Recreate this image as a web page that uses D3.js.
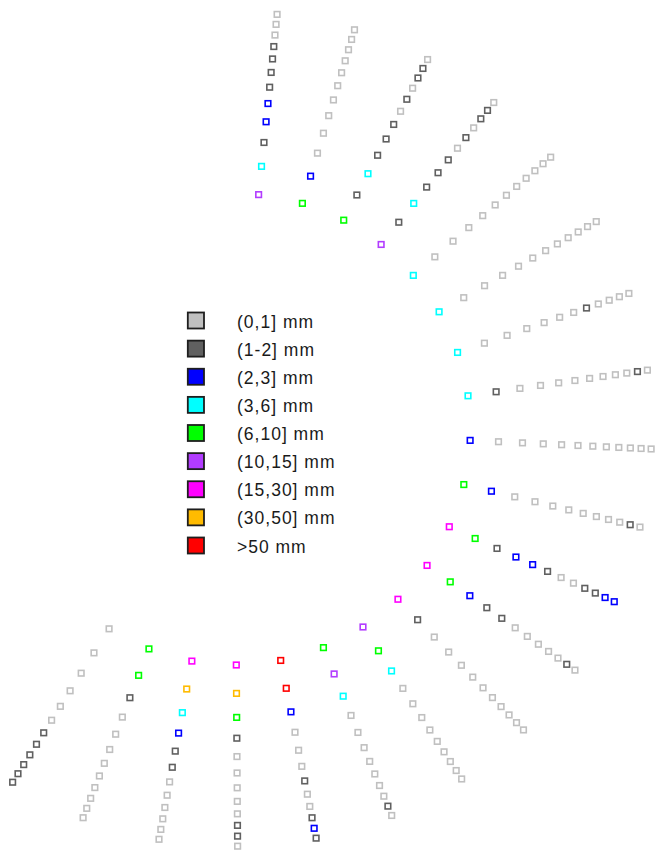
<!DOCTYPE html>
<html>
<head>
<meta charset="utf-8">
<script src="https://cdn.jsdelivr.net/npm/d3@7"></script>
<style>
  html, body { margin: 0; padding: 0; background: #fff; }
  svg { display: block; }
</style>
</head>
<body>
<svg id="chart" width="655" height="850"></svg>
<script>
// Precipitation classes, from the lightest to the heaviest
const classLabels = ["(0,1] mm", "(1-2] mm", "(2,3] mm", "(3,6] mm", "(6,10] mm",
                     "(10,15] mm", "(15,30] mm", "(30,50] mm", ">50 mm"];
const classColors = ["#c0c0c0", "#606060", "#0000ff", "#00ffff", "#00ff00",
                     "#b23cff", "#ff00ff", "#ffbb00", "#ff0000"];

// Class of each step along a spoke, listed from the inside out
const spoke01 = [5, 3, 1, 2, 2, 1, 1, 1, 1, 0, 0, 0];
const spoke02 = [4, 2, 0, 0, 0, 0, 0, 0, 0, 0, 0, 0];
const spoke03 = [4, 1, 3, 1, 1, 1, 0, 1, 0, 1, 1, 0];
const spoke04 = [5, 1, 3, 1, 1, 1, 0, 1, 0, 1, 1, 0];
const spoke05 = [3, 0, 0, 0, 0, 0, 0, 0, 0, 0, 0, 0];
const spoke06 = [3, 0, 0, 0, 0, 0, 0, 0, 0, 0, 0, 0];
const spoke07 = [3, 0, 0, 0, 0, 0, 0, 1, 0, 0, 0, 0];
const spoke08 = [3, 1, 0, 0, 0, 0, 0, 0, 0, 0, 1, 0];
const spoke09 = [2, 0, 0, 0, 0, 0, 0, 0, 0, 0, 0, 0];
const spoke10 = [4, 2, 0, 0, 0, 0, 0, 0, 0, 0, 1, 0];
const spoke11 = [6, 4, 1, 2, 2, 1, 0, 0, 1, 1, 2, 2];
const spoke12 = [6, 4, 2, 1, 1, 0, 0, 0, 0, 0, 1, 0];
const spoke13 = [6, 1, 0, 0, 0, 0, 0, 0, 0, 0, 0, 0];
const spoke14 = [5, 4, 3, 0, 0, 0, 0, 0, 0, 0, 0, 0];
const spoke15 = [4, 5, 3, 0, 0, 0, 0, 0, 0, 0, 1, 0];
const spoke16 = [8, 8, 2, 0, 0, 0, 1, 0, 0, 1, 2, 1];
const spoke17 = [6, 7, 4, 1, 0, 0, 0, 0, 0, 1, 1, 0];
const spoke18 = [6, 7, 3, 2, 1, 1, 0, 0, 0, 0, 0, 0];
const spoke19 = [4, 4, 1, 0, 0, 0, 0, 0, 0, 0, 0, 0];
const spoke20 = [0, 0, 0, 0, 0, 0, 1, 1, 1, 1, 1, 1];

const spokes = [spoke01, spoke02, spoke03, spoke04, spoke05, spoke06, spoke07,
                spoke08, spoke09, spoke10, spoke11, spoke12, spoke13, spoke14,
                spoke15, spoke16, spoke17, spoke18, spoke19, spoke20];

const svg = d3.select("#chart");
const cx = 234.6, cy = 429.2;
const stepsPerSpoke = spoke01.length;

// Spokes fan clockwise from just right of 12 o'clock (degrees)
const angle = d3.scaleLinear()
  .domain([0, spokes.length - 1])
  .range([5.85, 212.16]);

// Steps get closer together further out (log spacing)
const stepOffset = 5;
const radius = d3.scaleLog()
  .domain([stepOffset, stepOffset + stepsPerSpoke - 1])
  .range([235.8, 417]);

const color = d3.scaleOrdinal()
  .domain(d3.range(classLabels.length))
  .range(classColors);

const points = spokes.flatMap((spoke, i) =>
  spoke.map((cls, j) => {
    const a = angle(i) * Math.PI / 180;
    const r = radius(j + stepOffset);
    return { x: cx + r * Math.sin(a), y: cy - r * Math.cos(a), cls };
  }));

const mark = 5.6;
svg.append("g")
  .selectAll("rect")
  .data(points)
  .join("rect")
    .attr("x", d => d.x - mark / 2)
    .attr("y", d => d.y - mark / 2)
    .attr("width", mark)
    .attr("height", mark)
    .attr("fill", "#fff")
    .attr("stroke", d => color(d.cls))
    .attr("stroke-width", 1.6);

// Legend
const legendRow = d3.scalePoint()
  .domain(d3.range(classLabels.length))
  .range([320.5, 545.5]);

const legend = svg.append("g")
  .selectAll("g")
  .data(classLabels)
  .join("g")
    .attr("transform", (d, i) => `translate(0,${legendRow(i)})`);

legend.append("rect")
  .attr("x", 187.8)
  .attr("y", -8)
  .attr("width", 16.2)
  .attr("height", 16)
  .attr("fill", (d, i) => color(i))
  .attr("stroke", "#1e1e1e")
  .attr("stroke-width", 1.8);

legend.append("text")
  .attr("x", 237)
  .attr("y", 7)
  .attr("font-family", "'Liberation Sans', Arial, sans-serif")
  .attr("font-size", 17.5)
  .attr("letter-spacing", 1)
  .attr("fill", "#1a1a1a")
  .text(d => d);
</script>
</body>
</html>
